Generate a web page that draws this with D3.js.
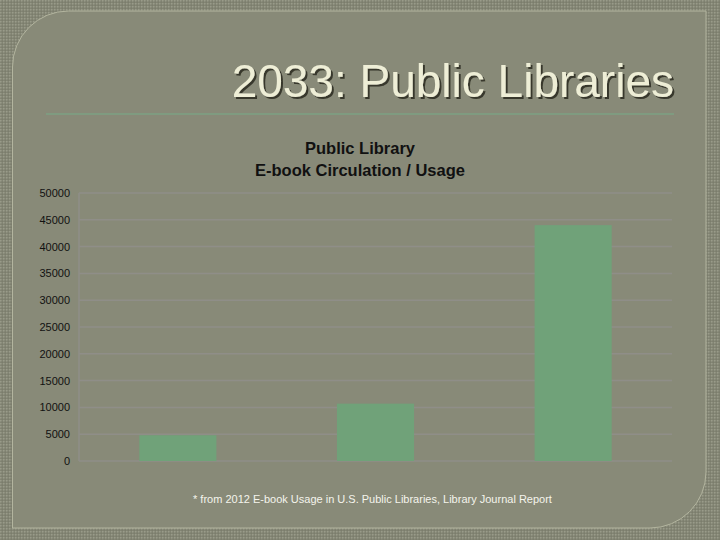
<!DOCTYPE html>
<html>
<head>
<meta charset="utf-8">
<script src="https://cdn.jsdelivr.net/npm/d3@7"></script>
<style>
  body { margin: 0; background: #878978; }
  svg { display: block; }
</style>
</head>
<body>
<div id="chart"></div>
<script>
var categories = ['2010', '2011', '2012'];
var circulation = [4800, 10700, 44000];
var yTicks = [0, 5000, 10000, 15000, 20000, 25000, 30000, 35000, 40000, 45000, 50000];
var slideTitle = '2033: Public Libraries';
var chartTitle = ['Public Library', 'E-book Circulation / Usage'];
var footnote = '* from 2012 E-book Usage in U.S. Public Libraries, Library Journal Report';

var width = 720, height = 540;
var plot = { left: 79, right: 672, top: 193, bottom: 461 };

var svg = d3.select('#chart')
  .append('svg')
  .attr('width', width)
  .attr('height', height);

// background texture outside the frame
var defs = svg.append('defs');
var pat = defs.append('pattern')
  .attr('id', 'dots')
  .attr('width', 3)
  .attr('height', 3)
  .attr('patternUnits', 'userSpaceOnUse');
pat.append('rect').attr('width', 3).attr('height', 3).attr('fill', '#838574');
pat.append('rect').attr('x', 0).attr('y', 0).attr('width', 1.5).attr('height', 1.5).attr('fill', '#999b89');
pat.append('rect').attr('x', 1.5).attr('y', 1.5).attr('width', 1.5).attr('height', 1.5).attr('fill', '#7b7d6c');

var shadow = defs.append('filter').attr('id', 'shadow')
  .attr('x', '-5%').attr('y', '-20%').attr('width', '110%').attr('height', '140%');
shadow.append('feDropShadow')
  .attr('dx', 2).attr('dy', 2).attr('stdDeviation', 0.5)
  .attr('flood-color', '#2a2a20').attr('flood-opacity', 0.85);

svg.append('rect')
  .attr('width', width)
  .attr('height', height)
  .attr('fill', 'url(#dots)');

// frame: rounded top-left and bottom-right corners
var fx0 = 12.5, fy0 = 11, fx1 = 706, fy1 = 528, r = 56;
svg.append('path')
  .attr('d', 'M ' + fx0 + ' ' + (fy0 + r) +
    ' A ' + r + ' ' + r + ' 0 0 1 ' + (fx0 + r) + ' ' + fy0 +
    ' L ' + fx1 + ' ' + fy0 +
    ' L ' + fx1 + ' ' + (fy1 - r) +
    ' A ' + r + ' ' + r + ' 0 0 1 ' + (fx1 - r) + ' ' + fy1 +
    ' L ' + fx0 + ' ' + fy1 + ' Z')
  .attr('fill', '#888a78')
  .attr('stroke', '#b3b59f')
  .attr('stroke-width', 1);

// slide title
svg.append('text')
  .attr('x', 674)
  .attr('y', 97)
  .attr('text-anchor', 'end')
  .attr('font-family', 'Liberation Sans, Arial, sans-serif')
  .attr('font-size', 46)
  .attr('fill', '#eeeed6')
  .attr('filter', 'url(#shadow)')
  .text(slideTitle);

svg.append('line')
  .attr('x1', 46).attr('x2', 674)
  .attr('y1', 114).attr('y2', 114)
  .attr('stroke', '#7f9b80')
  .attr('stroke-width', 2);

// chart title
svg.append('text')
  .attr('x', 360)
  .attr('y', 154)
  .attr('text-anchor', 'middle')
  .attr('font-family', 'Liberation Sans, Arial, sans-serif')
  .attr('font-weight', 'bold')
  .attr('font-size', 16.5)
  .attr('fill', '#111')
  .selectAll('tspan')
  .data(chartTitle)
  .enter()
  .append('tspan')
  .attr('x', 360)
  .attr('dy', function (d, i) { return i === 0 ? 0 : 22; })
  .text(function (d) { return d; });

var x = d3.scaleBand()
  .domain(categories)
  .range([plot.left, plot.right])
  .paddingInner(0.61)
  .paddingOuter(0.305);

var y = d3.scaleLinear()
  .domain([0, 50000])
  .range([plot.bottom, plot.top]);

// gridlines
svg.append('g')
  .selectAll('line')
  .data(yTicks)
  .enter()
  .append('line')
  .attr('x1', plot.left)
  .attr('x2', plot.right)
  .attr('y1', function (d) { return y(d); })
  .attr('y2', function (d) { return y(d); })
  .attr('stroke', '#8f8e88')
  .attr('stroke-width', 1.5);

svg.append('line')
  .attr('x1', plot.left).attr('x2', plot.left)
  .attr('y1', plot.top).attr('y2', plot.bottom)
  .attr('stroke', '#8f8e88')
  .attr('stroke-width', 1.5);

// y axis labels
var yAxis = d3.axisLeft(y)
  .tickValues(yTicks)
  .tickSize(0)
  .tickPadding(9)
  .tickFormat(d3.format('d'));

var gy = svg.append('g')
  .attr('transform', 'translate(' + plot.left + ',0)')
  .call(yAxis);
gy.select('.domain').remove();
gy.selectAll('text')
  .attr('font-family', 'Liberation Sans, Arial, sans-serif')
  .attr('font-size', 11)
  .attr('fill', '#111');

// bars
svg.append('g')
  .selectAll('rect')
  .data(circulation)
  .enter()
  .append('rect')
  .attr('x', function (d, i) { return x(categories[i]); })
  .attr('y', function (d) { return y(d); })
  .attr('width', x.bandwidth())
  .attr('height', function (d) { return y(0) - y(d); })
  .attr('fill', '#70a279');

// footnote
svg.append('text')
  .attr('x', 193)
  .attr('y', 503)
  .attr('font-family', 'Liberation Sans, Arial, sans-serif')
  .attr('font-size', 11)
  .attr('fill', '#f4f4ec')
  .text(footnote);
</script>
</body>
</html>
